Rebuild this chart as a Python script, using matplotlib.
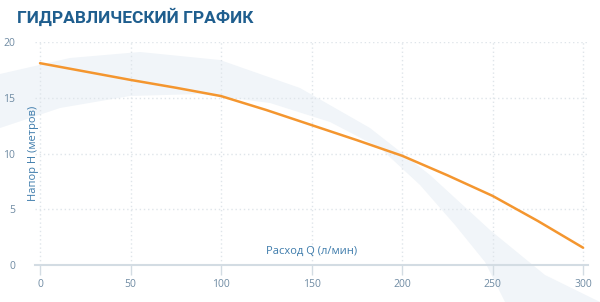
import matplotlib
matplotlib.use("Agg")
import matplotlib.pyplot as plt
from matplotlib.patches import Polygon

# ---- data ----
flow_q = [0, 25, 50, 75, 100, 125, 150, 175, 200, 225, 250, 275, 300]
head_h = [18.1, 17.35, 16.6, 15.9, 15.15, 13.9, 12.55, 11.2, 9.8, 8.05, 6.2, 3.95, 1.55]

x_ticks = [0, 50, 100, 150, 200, 250, 300]
y_ticks = [0, 5, 10, 15, 20]

TITLE = "ГИДРАВЛИЧЕСКИЙ ГРАФИК"
X_LABEL = "Расход Q (л/мин)"
Y_LABEL = "Напор Н (метров)"

# ---- colours ----
LINE_COLOR = "#f4962f"
TICK_COLOR = "#6f8ba3"
LABEL_COLOR = "#3d7bab"
TITLE_COLOR = "#1f5e8e"
GRID_COLOR = "#dfe5ea"

W, H = 600, 302
fig = plt.figure(figsize=(W / 100, H / 100), dpi=100)
fig.patch.set_facecolor("white")

# decorative faint swoosh behind the chart (pixel coords, y down)
bg = fig.add_axes([0, 0, 1, 1])
bg.set_xlim(0, W)
bg.set_ylim(H, 0)
bg.axis("off")
swoosh = [(0, 74), (70, 58), (140, 52), (220, 60), (300, 88), (370, 128),
          (430, 175), (490, 230), (545, 275), (600, 302),
          (505, 302), (485, 262), (455, 225), (420, 185), (380, 148),
          (330, 122), (270, 103), (200, 94), (130, 96), (60, 108), (0, 128)]
bg.add_patch(Polygon(swoosh, closed=True, facecolor="#f1f5f9", edgecolor="none"))

# main chart
ax = fig.add_axes([34.6 / W, 37 / H, 553.9 / W, 223 / H])
ax.patch.set_alpha(0)
ax.plot(flow_q, head_h, color=LINE_COLOR, linewidth=1.8, solid_capstyle="round", zorder=3)

ax.set_xlim(-3, 303)
ax.set_ylim(0, 20)
ax.set_xticks(x_ticks)
ax.set_yticks(y_ticks)

for s in ["top", "right", "left"]:
    ax.spines[s].set_visible(False)
ax.spines["bottom"].set_color("#d3dce3")
ax.spines["bottom"].set_linewidth(1.5)

ax.grid(True, linestyle=(0, (1, 2)), color=GRID_COLOR, linewidth=1)
ax.set_axisbelow(True)

ax.tick_params(axis="x", length=7, width=1, color="#d3dce3", pad=3,
               labelsize=7.5, labelcolor=TICK_COLOR)
ax.tick_params(axis="y", length=0, pad=14, labelsize=7.5, labelcolor=TICK_COLOR)
for lab in ax.get_xticklabels() + ax.get_yticklabels():
    lab.set_fontfamily(["Open Sans", "DejaVu Sans"])

# axis labels drawn inside the plot area like the reference
ax.text(150, 0.7, X_LABEL, ha="center", va="bottom", fontsize=8,
        color=LABEL_COLOR, family=["Open Sans", "DejaVu Sans"])
ax.text(-3.5, 10, Y_LABEL, ha="center", va="center", rotation=90, fontsize=8,
        color=LABEL_COLOR, family=["Open Sans", "DejaVu Sans"])

fig.text(17 / W, 1 - 17 / H, TITLE, ha="left", va="center", fontsize=12.5,
         fontweight="bold", color=TITLE_COLOR,
         family=["Liberation Sans Narrow", "Roboto", "DejaVu Sans"])

fig.savefig("out.png", dpi=100, facecolor="white")
